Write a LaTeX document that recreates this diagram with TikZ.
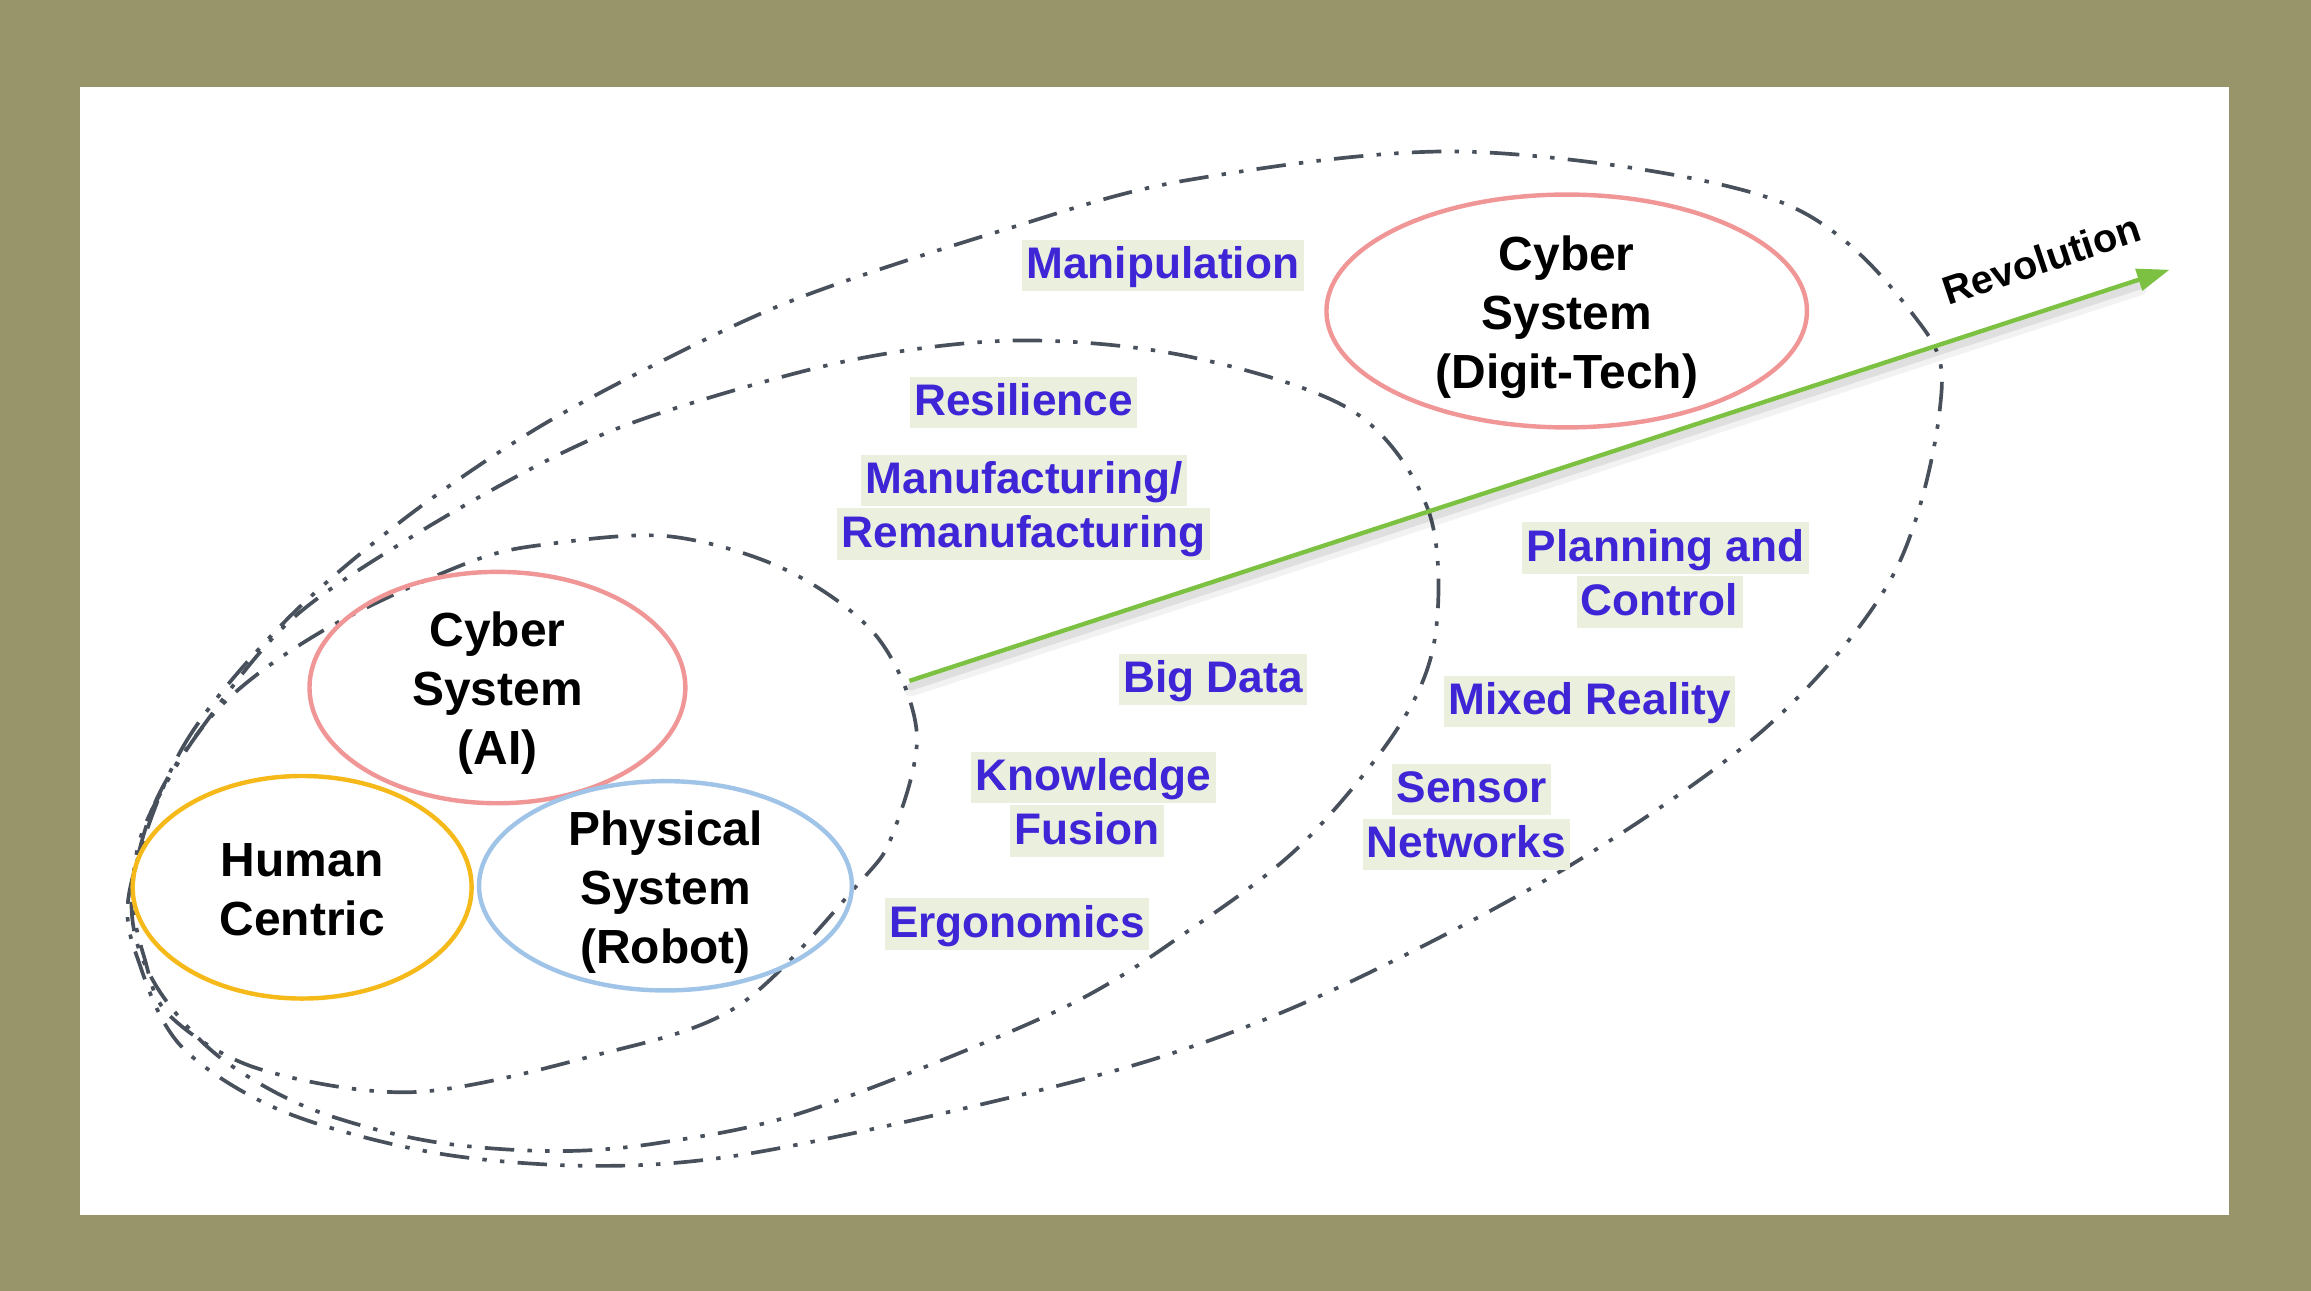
\documentclass[tikz,border=0pt]{standalone}
\usepackage{fontspec}
\setmainfont{Liberation Sans}
\usetikzlibrary{shapes.geometric,arrows.meta,calc}
\definecolor{olivebg}{RGB}{153,149,107}
\definecolor{ddgray}{RGB}{72,80,92}
\definecolor{pinkc}{RGB}{240,150,150}
\definecolor{yellowc}{RGB}{245,185,26}
\definecolor{bluec}{RGB}{160,196,232}
\definecolor{labblue}{RGB}{62,38,215}
\definecolor{labbg}{RGB}{235,239,222}
\definecolor{arrgreen}{RGB}{125,193,67}
\begin{document}
\begin{tikzpicture}[x=1pt,y=-1pt,
 ddline/.style={draw=ddgray, line width=2.5pt, dash pattern=on 20pt off 9pt on 3pt off 9pt on 3pt off 9pt},
 sysell/.style={ellipse, draw, line width=3pt, inner sep=0pt},
 systxt/.style={align=center, font=\fontsize{32.5}{40}\selectfont\bfseries, text=black},
 lab/.style={fill=labbg, text=labblue, font=\fontsize{30}{36}\selectfont\bfseries, inner xsep=3pt, inner ysep=1.5pt, text height=25pt, text depth=7pt},
]
% background and panel
\fill[olivebg] (0,0) rectangle (1568,875.9);
\fill[white] (54.3,59) rectangle (1512.3,824.5);
\useasboundingbox (0,0) rectangle (1568,875.9);

% dash-dot-dot regions
\draw[ddline] plot[smooth cycle, tension=0.55] coordinates {
 (88,604) (124,507) (192,423) (273,353) (362,292) (455,242) (545,201) (681,156)
 (807,122) (999,103) (1208,137) (1303,220) (1316,279) (1284,391) (1199,493)
 (1064,588) (908,670) (788,717) (650,753) (500,784) (400,791) (294,782)
 (192,754) (124,711) (95,655)};
\draw[ddline] plot[smooth cycle, tension=0.55] coordinates {
 (90,600) (105,545) (136,495) (197,421) (283,362) (380,308) (455,278) (579,244)
 (692,231) (807,242) (918,279) (969,346) (974,430) (949,493) (884,572) (810,629)
 (719,685) (550,753) (450,775) (375,781) (290,774) (210,752) (150,718) (112,678)
 (93,640)};
\draw[ddline] plot[smooth cycle, tension=0.55] coordinates {
 (90,607) (100,556) (147,482) (219,428) (317,382) (373,369) (455,364) (534,387)
 (595,432) (622,497) (606,565) (583,599) (500,683) (400,717) (280,741) (175,725)
 (115,689) (98,650)};

% system ellipses
\node[sysell, draw=pinkc, minimum width=326pt, minimum height=158pt] (dt) at (1063,211) {};
\node[systxt] (dttxt) at ($(dt)+(0,4)$) {Cyber\\System\\(Digit-Tech)};
\node[sysell, draw=pinkc, minimum width=255pt, minimum height=157pt] (ai) at (337.5,466.5) {};
\node[systxt] (aitxt) at ($(ai)+(0,4)$) {Cyber\\System\\(AI)};
\node[sysell, draw=yellowc, minimum width=230pt, minimum height=151pt] (hc) at (205,602) {};
\node[systxt] (hctxt) at ($(hc)+(0,1.5)$) {Human\\Centric};
\node[sysell, draw=bluec, minimum width=253pt, minimum height=142pt] (ps) at (451.5,601) {};
\node[systxt] (pstxt) at ($(ps)+(0,4)$) {Physical\\System\\(Robot)};

% revolution arrow
\coordinate (arrS) at (617,462);
\coordinate (arrE) at (1472,183);
\draw[line width=9pt, black, opacity=0.05, line cap=round, shorten >=22pt] ($(arrS)+(1,6)$) -- ($(arrE)+(1,6)$);
\draw[line width=5pt, black, opacity=0.08, line cap=round, shorten >=22pt] ($(arrS)+(1,4)$) -- ($(arrE)+(1,4)$);
\draw[arrgreen, line width=3pt, -{Triangle[length=22pt, width=15pt]}] (arrS) -- (arrE);
\node[rotate=18.5, font=\fontsize{27}{32}\selectfont\bfseries, inner sep=0pt] (rev) at (1385,176) {Revolution};

% labels
\node[lab] (manip) at (789,180) {Manipulation};
\node[lab] (resil) at (694.5,273) {Resilience};
\node[lab] (manu1) at (695,326) {Manufacturing/};
\node[lab] (manu2) at (694.5,362.5) {Remanufacturing};
\node[lab] (bigd) at (823,461) {Big Data};
\node[lab] (know) at (742,527.5) {Knowledge};
\node[lab] (fus) at (737.7,564) {Fusion};
\node[lab] (ergo) at (690,627) {Ergonomics};
\node[lab] (plan1) at (1130,372) {Planning and};
\node[lab] (plan2) at (1126,408.5) {Control};
\node[lab] (mixr) at (1078.6,476) {Mixed Reality};
\node[lab] (sens1) at (998.6,535.6) {Sensor};
\node[lab] (sens2) at (995,573) {Networks};
\end{tikzpicture}
\end{document}
